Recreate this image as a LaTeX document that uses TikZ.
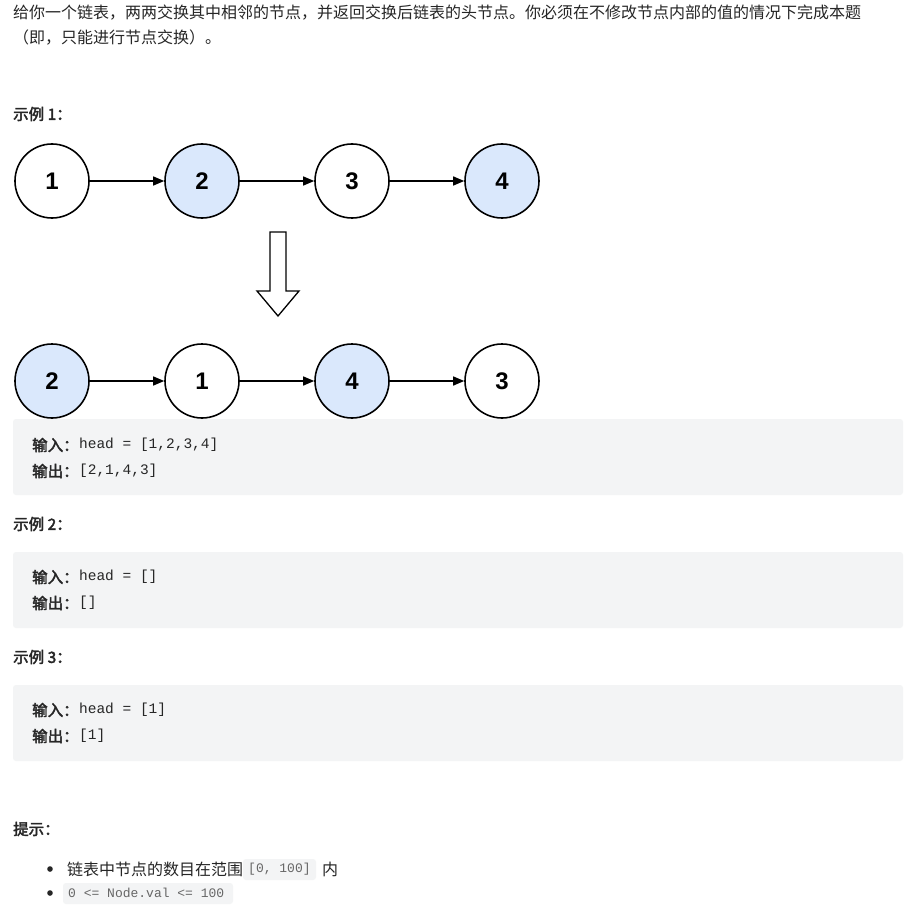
\documentclass[tikz,border=0pt]{standalone}
\usepackage{fontspec}
\setmainfont{Noto Sans CJK SC}
\setmonofont{Liberation Mono}
\newfontfamily\cjk{Noto Sans CJK SC}
\newfontfamily\cjkb[FakeBold=2.5]{Noto Sans CJK SC}
\newfontfamily\numf{Liberation Sans}
\definecolor{nblue}{HTML}{DAE8FC}
\definecolor{codebg}{HTML}{F3F4F5}
\definecolor{txt}{HTML}{262626}
\begin{document}
\begin{tikzpicture}[x=1pt,y=-1pt,
  ln/.style={circle,draw=black,line width=1.6pt,minimum size=74pt,inner sep=0pt,font=\numf\bfseries\fontsize{24}{24}\selectfont},
  hl/.style={ln,fill=nblue},
  wh/.style={ln,fill=white},
  lk/.style={-{Triangle[length=11pt,width=9pt]},line width=1.4pt},
  tx/.style={anchor=west,inner sep=0pt,text=txt,font=\cjk\fontsize{16}{16}\selectfont},
  hd/.style={anchor=west,inner sep=0pt,text=txt,font=\cjkb\fontsize{15.5}{16}\selectfont},
  cd/.style={anchor=west,inner sep=0pt,text=txt,font=\ttfamily\fontsize{14.5}{14}\selectfont},
  box/.style={fill=codebg,rounded corners=3pt}]
\useasboundingbox (0,0) rectangle (907,909);
\fill[white] (0,0) rectangle (907,909);
\usetikzlibrary{arrows.meta}
\node[tx] (t1) at (13,13) {给你一个链表，两两交换其中相邻的节点，并返回交换后链表的头节点。你必须在不修改节点内部的值的情况下完成本题};
\node[tx] (t2) at (13,38) {（即，只能进行节点交换）。};
\node[hd] (e1) at (13,114) {示例 1：};
% row 1
\node[wh] (a1) at (52,181) {1};
\node[hl] (a2) at (202,181) {2};
\node[wh] (a3) at (352,181) {3};
\node[hl] (a4) at (502,181) {4};
\draw[lk] (a1) -- (a2);
\draw[lk] (a2) -- (a3);
\draw[lk] (a3) -- (a4);
% hollow arrow
\draw[line width=1.3pt,fill=white] (270,232) -- (286,232) -- (286,291) -- (299,291) -- (278,316) -- (257,291) -- (270,291) -- cycle;
% row 2
\node[hl] (b1) at (52,381) {2};
\node[wh] (b2) at (202,381) {1};
\node[hl] (b3) at (352,381) {4};
\node[wh] (b4) at (502,381) {3};
\draw[lk] (b1) -- (b2);
\draw[lk] (b2) -- (b3);
\draw[lk] (b3) -- (b4);
% code boxes
\fill[box] (13,419) rectangle (903,495);
\node[hd] (i1) at (32,445) {输入：};
\node[cd] at (i1.east) [anchor=west] {head = [1,2,3,4]};
\node[hd] (o1) at (32,471) {输出：};
\node[cd] at (o1.east) [anchor=west] {[2,1,4,3]};
\node[hd] (e2) at (13,524) {示例 2：};
\fill[box] (13,552) rectangle (903,628);
\node[hd] (i2) at (32,577) {输入：};
\node[cd] at (i2.east) [anchor=west] {head = []};
\node[hd] (o2) at (32,603) {输出：};
\node[cd] at (o2.east) [anchor=west] {[]};
\node[hd] (e3) at (13,657) {示例 3：};
\fill[box] (13,685) rectangle (903,761);
\node[hd] (i3) at (32,710) {输入：};
\node[cd] at (i3.east) [anchor=west] {head = [1]};
\node[hd] (o3) at (32,736) {输出：};
\node[cd] at (o3.east) [anchor=west] {[1]};
\node[hd] (h) at (13,829) {提示：};
\fill[txt] (50,869) circle (2.8pt);
\fill[txt] (50,893) circle (2.8pt);
\node[tx] (l1) at (67,869) {链表中节点的数目在范围};
\fill[box] (243,859) rectangle (316,880);
\node[cd,text=gray!80!black,font=\ttfamily\fontsize{13}{13}\selectfont] at (248,869) {[0, 100]};
\node[tx] at (322,869) {内};
\fill[box] (63,883) rectangle (233,904);
\node[cd,text=gray!80!black,font=\ttfamily\fontsize{13}{13}\selectfont] at (68,893) {0 <= Node.val <= 100};
\end{tikzpicture}
\end{document}
